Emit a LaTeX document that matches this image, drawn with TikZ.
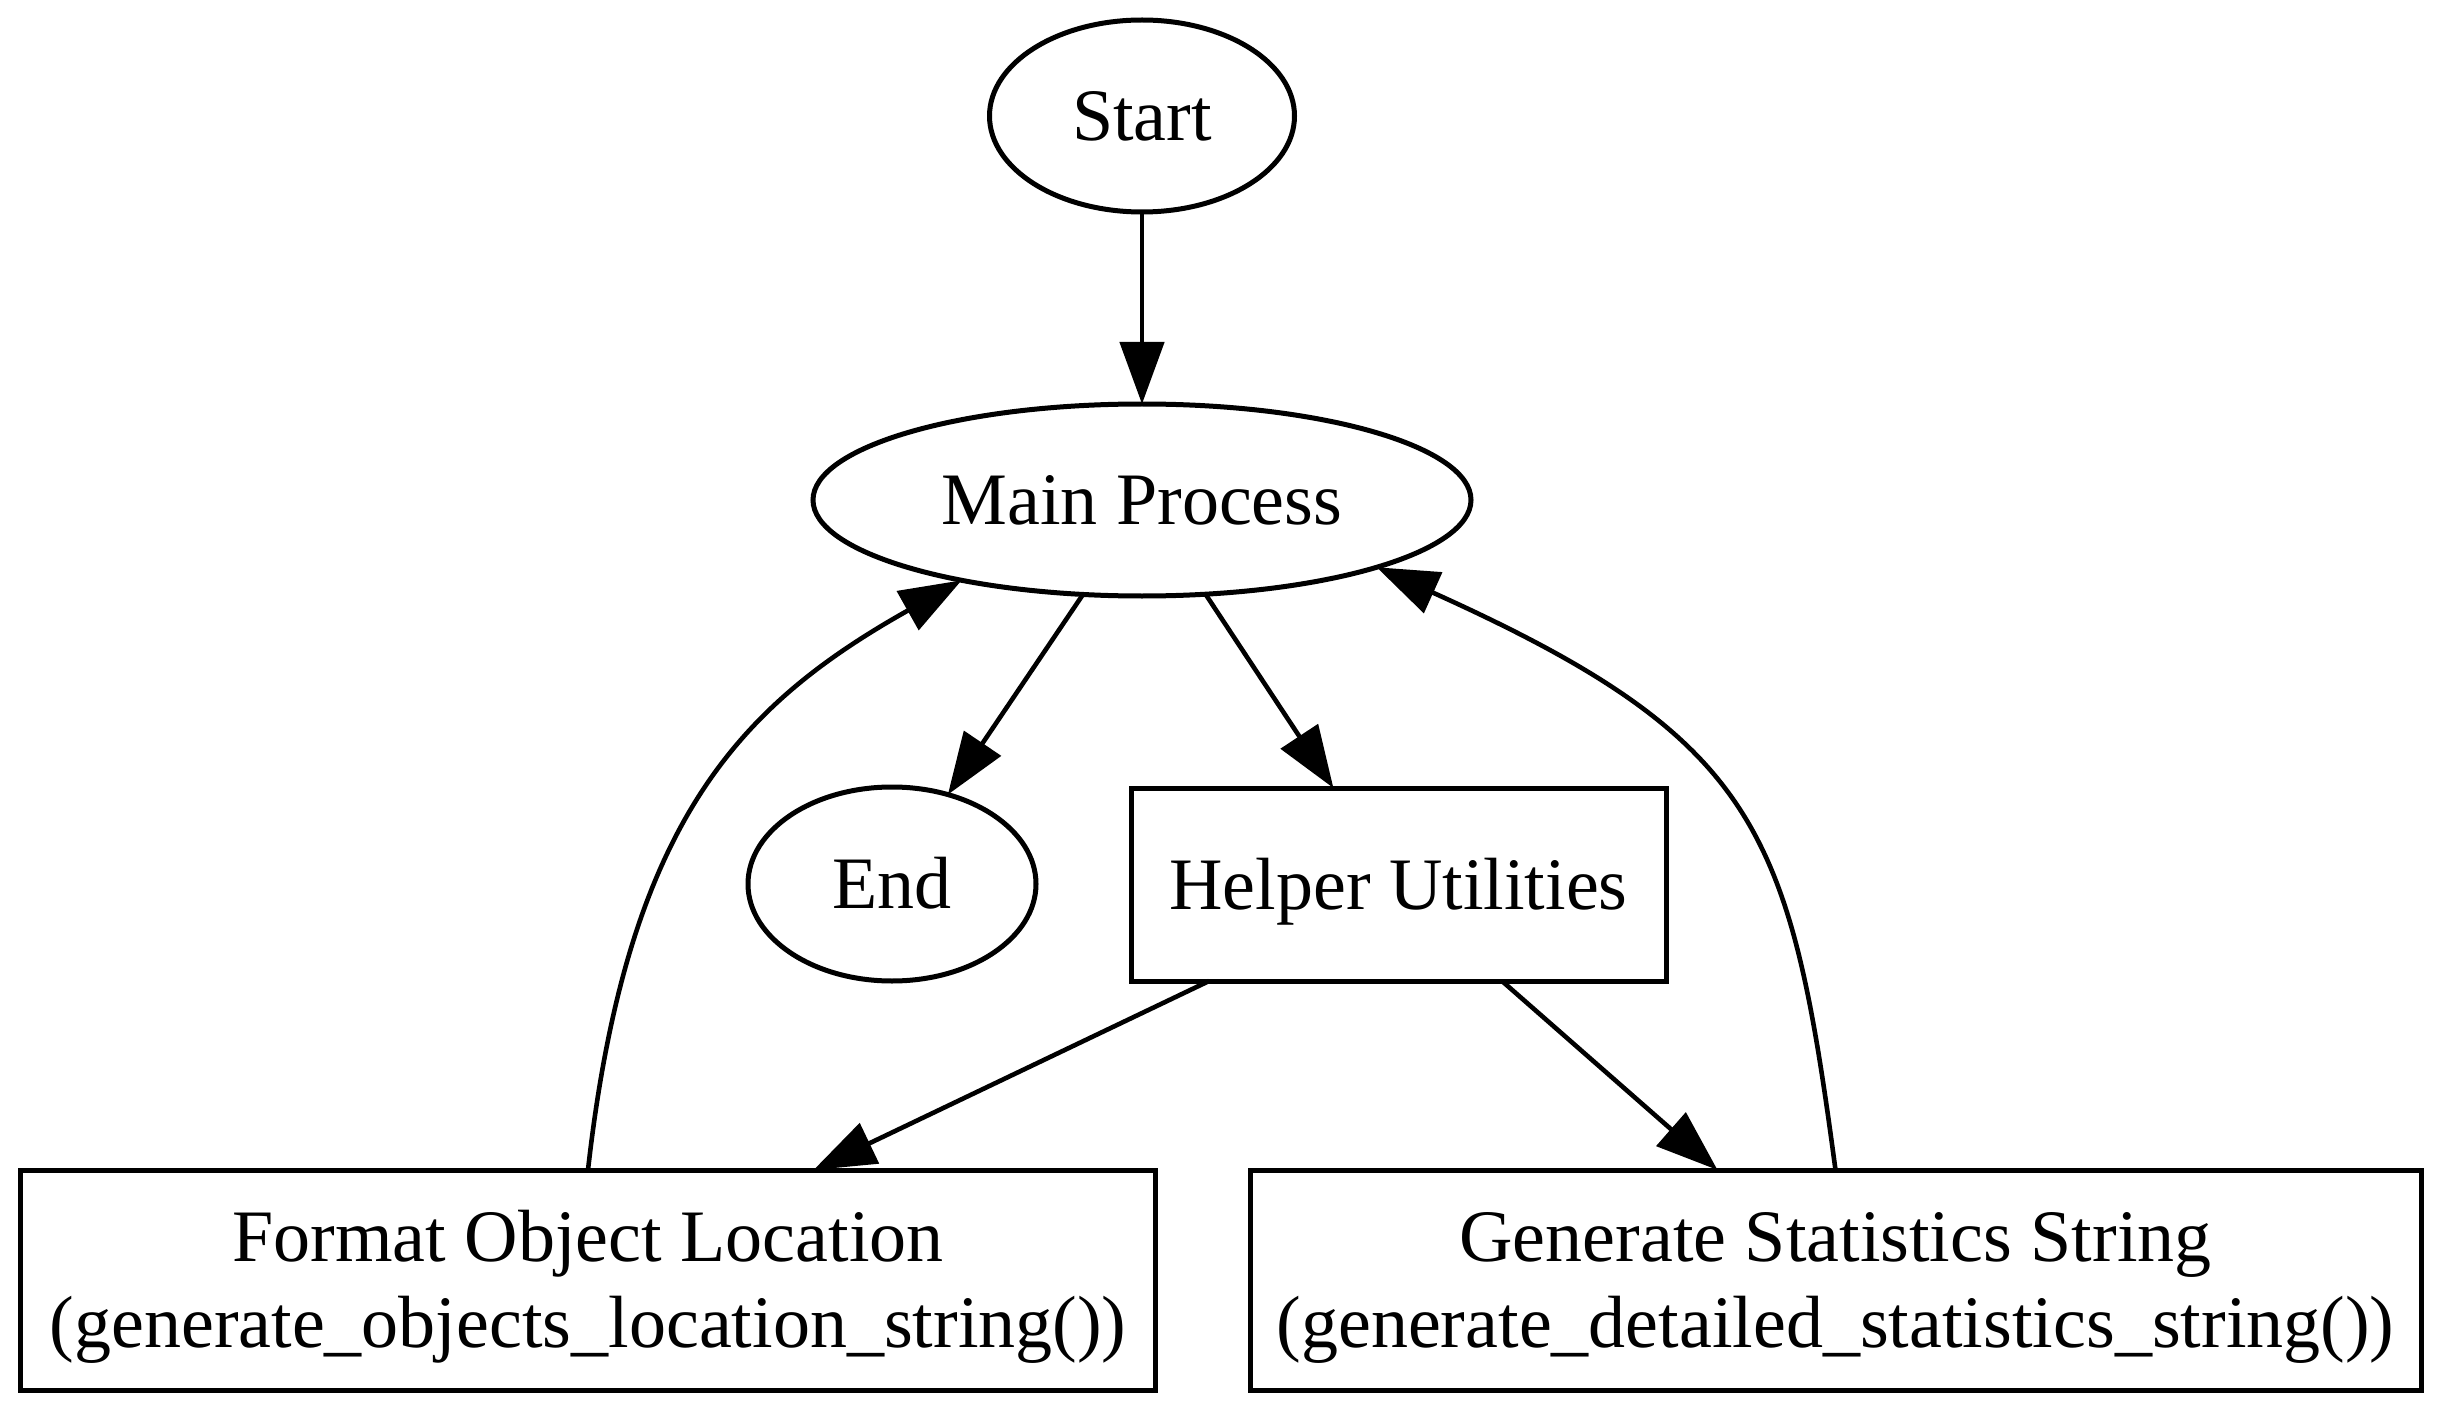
\documentclass[tikz,border=0pt]{standalone}
\usepackage{fontspec}
\setmainfont{Liberation Serif}
\usetikzlibrary{arrows.meta,shapes.geometric}
\begin{document}
\begin{tikzpicture}[x=0.25pt,y=-0.25pt,
  every node/.style={font=\fontsize{18.5}{21.5}\selectfont, inner sep=0pt, outer sep=0pt,
    line width=1.25pt, text height=12.25pt, text depth=0pt},
  oval/.style={draw, ellipse},
  box/.style={draw, rectangle},
  twoline/.style={align=center, text height=33.75pt, text depth=0pt},
  conn/.style={line width=1.15pt, -{Triangle[length=15.5pt,width=11pt]}},
]
\useasboundingbox (0,0) rectangle (2444,1412);

\node[oval, minimum width=76.25pt, minimum height=48pt] (start) at (1142,116) {Start};
\node[oval, minimum width=164.5pt, minimum height=48pt] (main) at (1142,500) {Main Process};
\node[oval, minimum width=72pt, minimum height=48.5pt] (end) at (892,884) {End};
\node[box, minimum width=133.75pt, minimum height=48.25pt] (helper) at (1398.5,884.5) {Helper Utilities};
\node[box, twoline, minimum width=283.75pt, minimum height=55pt] (format) at (588,1280)
  {Format Object Location\\(generate\_objects\_location\_string())};
\node[box, twoline, minimum width=292.75pt, minimum height=55pt] (gen) at (1835.5,1280)
  {Generate Statistics String\\(generate\_detailed\_statistics\_string())};

\draw[conn] (start.south) -- (main.north);
\draw[conn] (main.238) -- (end.58);
\draw[conn] (main.304) -- (helper.124);
\draw[conn] (helper.207) -- (format.26);
\draw[conn] (helper.-43) -- (gen.137);
\draw[conn] (format.north) .. controls (627,823) and (738,706) .. (main.204);
\draw[conn] (gen.north) .. controls (1790,830) and (1760,740) .. (main.-16);
\end{tikzpicture}
\end{document}
